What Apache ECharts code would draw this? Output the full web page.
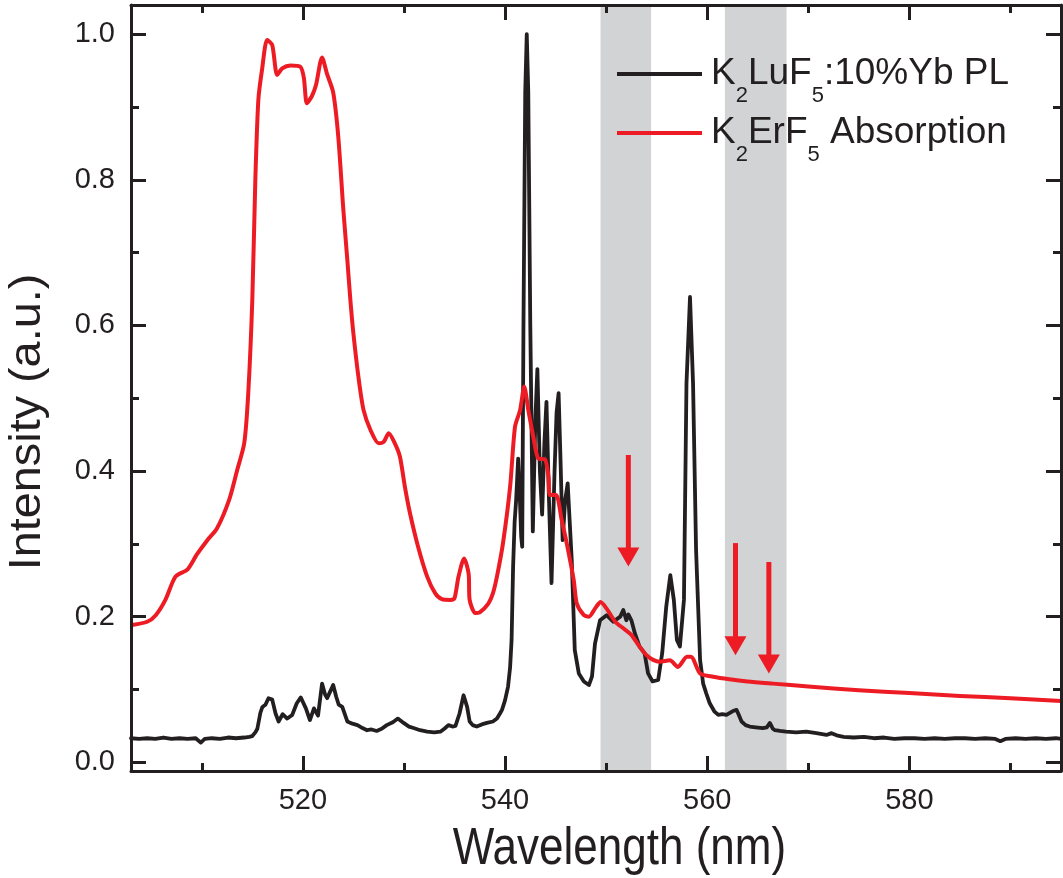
<!DOCTYPE html>
<html>
<head>
<meta charset="utf-8">
<title>K2LuF5:Yb PL and K2ErF5 absorption</title>
<script src="https://cdn.jsdelivr.net/npm/echarts@6/dist/echarts.min.js"></script>
<style>
  html, body { margin: 0; padding: 0; background: #ffffff; }
  #chart { width: 1063px; height: 878px; }
</style>
</head>
<body>
<div id="chart"></div>
<script>
// Photoluminescence spectrum of K2LuF5:10%Yb (wavelength in nm, normalised intensity)
const plWavelength = [
  503.0, 503.8, 504.6, 505.4, 506.2, 507.0, 507.8, 508.6, 509.4, 509.9,
  510.3, 511.0, 511.8, 512.6, 513.4, 514.2, 514.7, 515.0, 515.3, 515.5,
  515.8, 516.0, 516.3, 516.6, 516.97, 517.3, 517.6, 518.0, 518.45, 518.95,
  519.4, 519.8, 520.3, 520.7, 521.1, 521.5, 521.9, 522.2, 522.4, 522.7,
  523.0, 523.3, 523.55, 523.9, 524.4, 524.9, 525.4, 525.9, 526.35, 526.8,
  527.3, 527.8, 528.3, 528.9, 529.4, 529.97, 530.5, 530.95, 531.6, 532.3,
  533.0, 533.6, 534.0, 534.4, 534.8, 535.1, 535.5, 535.9, 536.25, 536.5,
  536.8, 537.2, 537.7, 538.2, 538.8, 539.2, 539.5, 539.7, 540.0, 540.3,
  540.5, 540.65, 540.8, 540.95, 541.1, 541.3, 541.45, 541.6, 541.7, 541.82,
  542.0, 542.15, 542.3, 542.5, 542.75, 543.0, 543.2, 543.45, 543.67, 543.9,
  544.1, 544.35, 544.6, 544.9, 545.1, 545.3, 545.5, 545.7, 545.95, 546.2,
  546.4, 546.6, 546.9, 547.3, 547.8, 548.3, 548.6, 548.9, 549.4, 550.05,
  550.7, 551.4, 551.7, 552.0, 552.2, 552.5, 552.85, 553.3, 553.8, 554.15,
  554.6, 555.15, 555.55, 555.95, 556.35, 556.7, 557.0, 557.3, 557.7, 557.95,
  558.3, 558.6, 558.9, 559.3, 559.6, 559.9, 560.25, 560.7, 561.1, 561.5,
  561.9, 562.5, 562.9, 563.1, 563.4, 563.8, 564.2, 564.8, 565.5, 565.9,
  566.2, 566.5, 566.7, 567.2, 567.8, 568.8, 569.8, 570.8, 571.8, 572.3,
  572.8, 573.5, 574.5, 575.5, 576.5, 577.5, 578.5, 579.5, 580.5, 581.5,
  582.5, 583.5, 584.5, 585.5, 586.5, 587.5, 588.5, 589.0, 589.5, 590.5,
  591.5, 592.5, 593.5, 594.5, 595.0
];
const plIntensity = [
  0.033, 0.032, 0.033, 0.032, 0.034, 0.032, 0.033, 0.032, 0.033, 0.027,
  0.032, 0.033, 0.032, 0.034, 0.033, 0.034, 0.035, 0.036, 0.041, 0.046,
  0.068, 0.076, 0.079, 0.088, 0.086, 0.067, 0.056, 0.066, 0.060, 0.065,
  0.081, 0.089, 0.074, 0.058, 0.074, 0.064, 0.108, 0.093, 0.088, 0.097,
  0.106, 0.090, 0.079, 0.076, 0.056, 0.053, 0.051, 0.047, 0.044, 0.045,
  0.043, 0.046, 0.051, 0.055, 0.060, 0.054, 0.049, 0.047, 0.044, 0.042,
  0.041, 0.042, 0.046, 0.051, 0.049, 0.050, 0.067, 0.092, 0.076, 0.056,
  0.051, 0.049, 0.052, 0.054, 0.056, 0.060, 0.067, 0.072, 0.085, 0.104,
  0.130, 0.168, 0.269, 0.330, 0.360, 0.417, 0.370, 0.310, 0.296, 0.590,
  0.920, 1.000, 0.920, 0.600, 0.317, 0.470, 0.540, 0.400, 0.340, 0.440,
  0.495, 0.360, 0.246, 0.400, 0.480, 0.507, 0.410, 0.305, 0.360, 0.383,
  0.330, 0.278, 0.154, 0.122, 0.111, 0.106, 0.1175, 0.163, 0.195, 0.202,
  0.193, 0.200, 0.209, 0.195, 0.203, 0.195, 0.177, 0.159, 0.150, 0.122,
  0.111, 0.113, 0.150, 0.214, 0.257, 0.223, 0.168, 0.159, 0.223, 0.520,
  0.639, 0.520, 0.291, 0.140, 0.108, 0.095, 0.081, 0.070, 0.065, 0.066,
  0.065, 0.070, 0.072, 0.066, 0.056, 0.051, 0.049, 0.048, 0.047, 0.048,
  0.054, 0.046, 0.044, 0.043, 0.042, 0.041, 0.042, 0.040, 0.0375, 0.040,
  0.037, 0.035, 0.034, 0.035, 0.033, 0.034, 0.032, 0.033, 0.033, 0.032,
  0.033, 0.032, 0.033, 0.033, 0.032, 0.033, 0.032, 0.029, 0.032, 0.033,
  0.032, 0.033, 0.032, 0.033, 0.032
];

// Absorption spectrum of K2ErF5
const absWavelength = [
  503.1, 504.6, 505.45, 506.4, 507.4, 508.6, 509.5, 510.55, 511.5, 512.7,
  513.5, 514.2, 514.6, 515.0, 515.3, 515.6, 515.98, 516.47, 516.97, 517.46,
  517.96, 518.78, 519.76, 520.1, 520.4, 520.9, 521.3, 521.9, 522.4, 523.0,
  523.5, 524.0, 524.4, 524.7, 525.0, 525.5, 526.0, 526.7, 527.5, 528.0,
  528.5, 529.1, 529.6, 530.1, 530.6, 531.4, 532.3, 533.1, 533.75, 534.6,
  535.0, 535.4, 535.95, 536.4, 536.5, 537.05, 537.5, 538.35, 538.8, 539.2,
  539.8, 540.5, 540.99, 541.5, 541.9, 542.3, 542.8, 543.3, 543.95, 544.3,
  544.45, 545.05, 545.6, 546.1, 546.8, 547.1, 547.8, 548.3, 548.9, 549.45,
  550.05, 550.9, 551.7, 552.5, 553.2, 554.0, 554.6, 555.3, 556.3, 557.1,
  558.0, 558.4, 559.3, 560.6, 562.2, 564.0, 566.5, 570.0, 575.0, 580.0,
  585.0, 590.0, 595.0
];
const absIntensity = [
  0.1885, 0.193, 0.202, 0.223, 0.255, 0.265, 0.285, 0.305, 0.321, 0.360,
  0.401, 0.438, 0.507, 0.635, 0.800, 0.910, 0.953, 0.992, 0.985, 0.944,
  0.953, 0.957, 0.955, 0.940, 0.905, 0.915, 0.930, 0.968, 0.945, 0.920,
  0.860, 0.760, 0.690, 0.635, 0.589, 0.529, 0.484, 0.456, 0.438, 0.440,
  0.452, 0.438, 0.420, 0.378, 0.342, 0.296, 0.255, 0.232, 0.224, 0.223,
  0.225, 0.255, 0.280, 0.259, 0.223, 0.205, 0.206, 0.218, 0.232, 0.255,
  0.301, 0.378, 0.461, 0.484, 0.516, 0.484, 0.447, 0.417, 0.416, 0.392,
  0.367, 0.367, 0.333, 0.301, 0.250, 0.218, 0.202, 0.200, 0.211, 0.220,
  0.211, 0.193, 0.184, 0.175, 0.161, 0.147, 0.141, 0.138, 0.140, 0.131,
  0.145, 0.145, 0.122, 0.1175, 0.114, 0.111, 0.108, 0.104, 0.099, 0.095,
  0.091, 0.088, 0.084
];

// Shaded wavelength windows [start, end] in nm
const bandStart = [549.45, 561.75];
const bandEnd = [554.45, 567.85];

// Downward arrows: wavelength, tail intensity, tip intensity
const arrowWavelength = [552.2, 562.8, 566.1];
const arrowTail = [0.422, 0.301, 0.275];
const arrowTip = [0.269, 0.147, 0.122];

// Axis ticks and labels
const xMajorTicks = [520, 540, 560, 580];
const xMinorTicks = [510, 530, 550, 570, 590];
const yMajorTicks = [0, 0.2, 0.4, 0.6, 0.8, 1.0];
const yMinorTicks = [0.1, 0.3, 0.5, 0.7, 0.9];

const seriesNames = ['K2LuF5:10%Yb PL', 'K2ErF5 Absorption'];

const INK = '#231f20';
const RED = '#ed1c24';
const BAND = '#d1d3d4';
const FONT = '"Liberation Sans", Arial, Helvetica, sans-serif';
const X_MIN = 503, X_MAX = 595, Y_MIN = -0.012, Y_MAX = 1.04;

const zip = (xs, ys) => xs.map((x, i) => [x, ys[i]]);

function xAxisDef(position, ticks, len, withLine, withLabels) {
  return {
    type: 'value', min: X_MIN, max: X_MAX, position: position, z: 5,
    splitLine: { show: false },
    axisLine: { show: withLine, onZero: false, lineStyle: { color: INK, width: 3 } },
    axisTick: { show: true, inside: true, length: len, customValues: ticks,
                lineStyle: { color: INK, width: 3 } },
    axisLabel: withLabels
      ? { show: true, customValues: ticks, margin: 15, color: INK, fontSize: 29, fontFamily: FONT }
      : { show: false }
  };
}
function yAxisDef(position, ticks, len, withLine, withLabels) {
  return {
    type: 'value', min: Y_MIN, max: Y_MAX, position: position, z: 5,
    splitLine: { show: false },
    axisLine: { show: withLine, onZero: false, lineStyle: { color: INK, width: 3 } },
    axisTick: { show: true, inside: true, length: len, customValues: ticks,
                lineStyle: { color: INK, width: 3 } },
    axisLabel: withLabels
      ? { show: true, customValues: ticks, margin: 16, color: INK, fontSize: 29, fontFamily: FONT,
          formatter: v => Number(v).toFixed(1) }
      : { show: false }
  };
}

// Legend label with subscripted digits
const legendRich = {
  k: { fontSize: 37, fontFamily: FONT, color: INK, height: 40, lineHeight: 53,
       verticalAlign: 'top', padding: [13, 0, 0, 4] },
  m: { fontSize: 37, fontFamily: FONT, color: INK, height: 40, lineHeight: 53,
       verticalAlign: 'top', padding: [13, 0, 0, 0] },
  s: { fontSize: 22, fontFamily: FONT, color: INK, height: 22, lineHeight: 66,
       verticalAlign: 'top', padding: [44, 0, 0, 0] }
};
function legendDef(name, top, label) {
  return {
    data: [{ name: name, icon: 'rect' }],
    left: 617, top: top, padding: 0, orient: 'vertical',
    itemWidth: 85, itemHeight: 4, selectedMode: false,
    textStyle: { color: INK, fontFamily: FONT, rich: legendRich },
    formatter: () => label
  };
}

const chart = echarts.init(document.getElementById('chart'), null, { renderer: 'canvas' });

chart.setOption({
  animation: false,
  backgroundColor: '#ffffff',
  grid: { left: 131, right: 2, top: 5, bottom: 107, containLabel: false },
  xAxis: [
    xAxisDef('bottom', xMajorTicks, 15, true, true),
    xAxisDef('bottom', xMinorTicks, 8, false, false),
    xAxisDef('top', xMajorTicks, 15, true, false),
    xAxisDef('top', xMinorTicks, 8, false, false)
  ],
  yAxis: [
    yAxisDef('left', yMajorTicks, 15, true, true),
    yAxisDef('left', yMinorTicks, 8, false, false),
    yAxisDef('right', yMajorTicks, 15, true, false),
    yAxisDef('right', yMinorTicks, 8, false, false)
  ],
  legend: [
    legendDef(seriesNames[0], 41, '{k|K}{s|2}{m|LuF}{s|5}{m|:10%Yb PL}'),
    legendDef(seriesNames[1], 100, '{k|K}{s|2}{m|ErF}{s|5}{m| Absorption}')
  ],
  graphic: [
    {
      type: 'text', x: 619.4, y: 850, scaleX: 0.863, z: 10,
      style: { text: 'Wavelength (nm)', font: '51px ' + FONT, fill: INK,
               align: 'center', verticalAlign: 'middle',
               textAlign: 'center', textVerticalAlign: 'middle' }
    },
    {
      type: 'text', x: 27.5, y: 422, rotation: Math.PI / 2, scaleX: 1.04, z: 10,
      style: { text: 'Intensity (a.u.)', font: '45px ' + FONT, fill: INK,
               align: 'center', verticalAlign: 'middle',
               textAlign: 'center', textVerticalAlign: 'middle' }
    }
  ],
  series: [
    {
      name: 'bands', type: 'custom', z: 1, silent: true,
      data: bandStart.map((s, i) => [s, bandEnd[i]]),
      encode: { x: [0, 1] },
      renderItem: (params, api) => {
        const cs = params.coordSys;
        const x0 = api.coord([api.value(0), 0])[0];
        const x1 = api.coord([api.value(1), 0])[0];
        return { type: 'rect', shape: { x: x0, y: cs.y, width: x1 - x0, height: cs.height },
                 style: { fill: BAND } };
      }
    },
    {
      name: seriesNames[0], type: 'line', z: 3,
      data: zip(plWavelength, plIntensity),
      showSymbol: false, symbol: 'none', color: INK,
      lineStyle: { color: INK, width: 3.8, join: 'round', cap: 'round' }
    },
    {
      name: seriesNames[1], type: 'line', z: 4,
      data: zip(absWavelength, absIntensity),
      showSymbol: false, symbol: 'none', color: RED, smooth: 0.25,
      lineStyle: { color: RED, width: 4, join: 'round', cap: 'round' }
    },
    {
      name: 'arrows', type: 'custom', z: 6, silent: true,
      data: arrowWavelength.map((w, i) => [w, arrowTail[i], arrowTip[i]]),
      encode: { x: 0, y: [1, 2] },
      renderItem: (params, api) => {
        const tail = api.coord([api.value(0), api.value(1)]);
        const tip = api.coord([api.value(0), api.value(2)]);
        const headLen = 19, halfW = 11;
        return {
          type: 'group',
          children: [
            { type: 'line', shape: { x1: tail[0], y1: tail[1], x2: tip[0], y2: tip[1] - headLen + 2 },
              style: { stroke: RED, lineWidth: 5 } },
            { type: 'polygon',
              shape: { points: [[tip[0] - halfW, tip[1] - headLen], [tip[0] + halfW, tip[1] - headLen], [tip[0], tip[1]]] },
              style: { fill: RED } }
          ]
        };
      }
    }
  ]
});
</script>
</body>
</html>
